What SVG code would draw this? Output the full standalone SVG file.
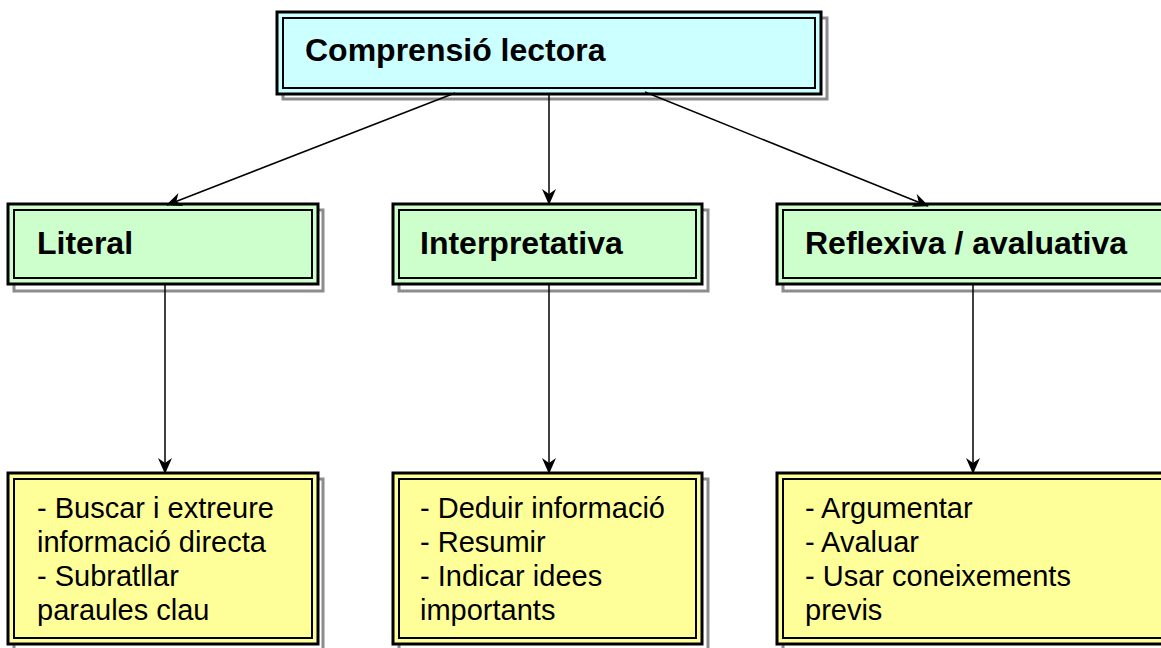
<svg xmlns="http://www.w3.org/2000/svg" width="1161" height="648" viewBox="0 0 1161 648">
<style>
.shadow{fill:none;stroke:#8c8c8c;stroke-width:3}
.outer{stroke:#000;stroke-width:3}
.inner{fill:none;stroke:#000;stroke-width:2}
.top{fill:#ccffff}
.mid{fill:#ccffcc}
.bot{fill:#ffff99}
.title{font-family:"Liberation Sans",Arial,sans-serif;font-weight:bold;font-size:32px;fill:#000}
.body{font-family:"Liberation Sans",Arial,sans-serif;font-size:29px;fill:#000}
.conn{stroke:#000;stroke-width:1.5;fill:none}
</style>
<defs>
<marker id="arr" viewBox="0 0 16 14" refX="15" refY="7" markerWidth="16" markerHeight="14" markerUnits="userSpaceOnUse" orient="auto">
<path d="M0,0 L16,7 L0,14 L5,7 Z" fill="#000"/>
</marker>
</defs>
<rect width="1161" height="648" fill="#fff"/>
<g id="n-top">
<rect class="shadow" x="283" y="18" width="544" height="81"/>
<rect class="outer top" x="277" y="12" width="544" height="82"/>
<rect class="inner" x="283" y="18" width="532" height="70"/>
<text class="title" x="305" y="61">Comprensió lectora</text>
</g>
<g id="n-literal">
<rect class="shadow" x="14" y="210" width="309" height="81"/>
<rect class="outer mid" x="8" y="204" width="310" height="80"/>
<rect class="inner" x="14" y="210" width="298" height="68"/>
<text class="title" x="37" y="254">Literal</text>
</g>
<g id="n-interp">
<rect class="shadow" x="399" y="210" width="309" height="81"/>
<rect class="outer mid" x="393" y="204" width="309" height="80"/>
<rect class="inner" x="399" y="210" width="297" height="68"/>
<text class="title" x="420" y="254">Interpretativa</text>
</g>
<g id="n-reflex">
<rect class="shadow" x="783" y="210" width="400" height="81"/>
<rect class="outer mid" x="777" y="204" width="400" height="80"/>
<rect class="inner" x="783" y="210" width="390" height="68"/>
<text class="title" x="805" y="254">Reflexiva / avaluativa</text>
</g>
<g id="n-literal-detail">
<rect class="shadow" x="14" y="479" width="309" height="172"/>
<rect class="outer bot" x="8" y="473" width="310" height="171"/>
<rect class="inner" x="14" y="479" width="298" height="159"/>
<text class="body" x="37"><tspan x="37" y="518">- Buscar i extreure</tspan><tspan x="37" y="552">informació directa</tspan><tspan x="37" y="586">- Subratllar</tspan><tspan x="37" y="620">paraules clau</tspan></text>
</g>
<g id="n-interp-detail">
<rect class="shadow" x="399" y="479" width="309" height="172"/>
<rect class="outer bot" x="393" y="473" width="309" height="171"/>
<rect class="inner" x="399" y="479" width="297" height="159"/>
<text class="body" x="420"><tspan x="420" y="518">- Deduir informació</tspan><tspan x="420" y="552">- Resumir</tspan><tspan x="420" y="586">- Indicar idees</tspan><tspan x="420" y="620">importants</tspan></text>
</g>
<g id="n-reflex-detail">
<rect class="shadow" x="783" y="479" width="400" height="172"/>
<rect class="outer bot" x="777" y="473" width="400" height="171"/>
<rect class="inner" x="783" y="479" width="390" height="159"/>
<text class="body" x="805"><tspan x="805" y="518">- Argumentar</tspan><tspan x="805" y="552">- Avaluar</tspan><tspan x="805" y="586">- Usar coneixements</tspan><tspan x="805" y="620">previs</tspan></text>
</g>
<g id="connectors">
<line class="conn" x1="455" y1="93" x2="167" y2="205" marker-end="url(#arr)"/>
<line class="conn" x1="549" y1="93" x2="549" y2="204" marker-end="url(#arr)"/>
<line class="conn" x1="645" y1="92" x2="928" y2="206" marker-end="url(#arr)"/>
<line class="conn" x1="165" y1="285" x2="165" y2="473" marker-end="url(#arr)"/>
<line class="conn" x1="549" y1="285" x2="549" y2="473" marker-end="url(#arr)"/>
<line class="conn" x1="973" y1="285" x2="973" y2="473" marker-end="url(#arr)"/>
</g>
</svg>
